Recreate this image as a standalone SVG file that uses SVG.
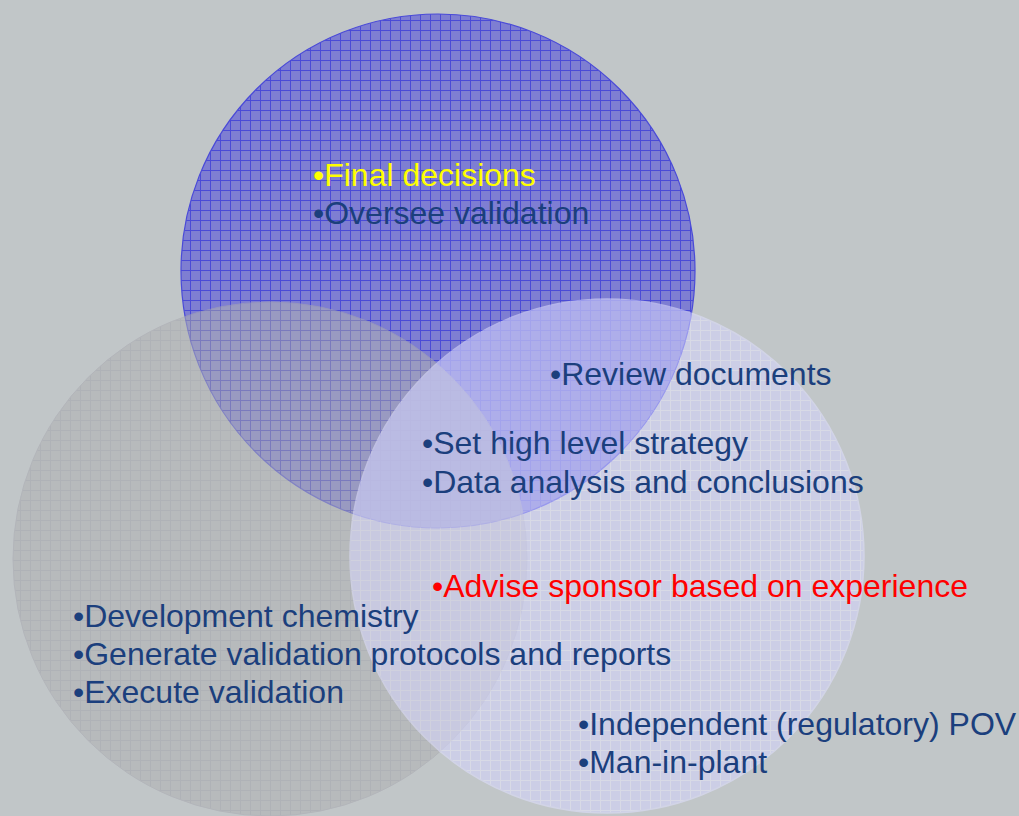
<svg xmlns="http://www.w3.org/2000/svg" width="1019" height="816" viewBox="0 0 1019 816">
<defs>
<pattern id="gTop" patternUnits="userSpaceOnUse" width="10" height="10">
<rect width="10" height="10" fill="#7e7ed2"/>
<path d="M0 0.5H10M0.5 0V10" stroke="#4a4ad6" stroke-width="1"/>
</pattern>
<pattern id="gLeft" patternUnits="userSpaceOnUse" width="10" height="10">
<rect width="10" height="10" fill="#b0b2b4"/>
<path d="M0 0.5H10M0.5 0V10" stroke="#a2a2aa" stroke-width="1"/>
</pattern>
<pattern id="gRight" patternUnits="userSpaceOnUse" width="10" height="10">
<rect width="10" height="10" fill="#d6d6ff"/>
<path d="M0 0.5H10M0.5 0V10" stroke="#ececff" stroke-width="1"/>
</pattern>
</defs>
<style>
text{font-family:"Liberation Sans",Arial,sans-serif;font-size:32px;fill:#1b3f7d}
.y{fill:#ffff00}
.r{fill:#ff0000}
</style>
<rect width="1019" height="816" fill="#c1c6c8"/>
<g id="circle-top">
<circle cx="438" cy="271" r="257" fill="url(#gTop)" stroke="#4a4ad8" stroke-width="1.2"/>
</g>
<g id="circle-left" opacity="0.55">
<circle cx="270" cy="559" r="257" fill="url(#gLeft)" stroke="#a8a8b0" stroke-width="1"/>
</g>
<g id="circle-right" opacity="0.55">
<circle cx="607" cy="556" r="257" fill="url(#gRight)" stroke="#e0e0ff" stroke-width="1.5"/>
</g>
<g id="connectors"/>
<g id="labels-top">
<text x="313" y="186" class="y">•Final decisions</text>
<text x="313" y="224">•Oversee validation</text>
</g>
<g id="labels-shared">
<text x="550" y="385">•Review documents</text>
<text x="422" y="454">•Set high level strategy</text>
<text x="422" y="493">•Data analysis and conclusions</text>
<text x="432" y="597" class="r">•Advise sponsor based on experience</text>
</g>
<g id="labels-left">
<text x="73" y="627">•Development chemistry</text>
<text x="73" y="665">•Generate validation protocols and reports</text>
<text x="73" y="703">•Execute validation</text>
</g>
<g id="labels-right">
<text x="578" y="735">•Independent (regulatory) POV</text>
<text x="578" y="773">•Man-in-plant</text>
</g>
</svg>
